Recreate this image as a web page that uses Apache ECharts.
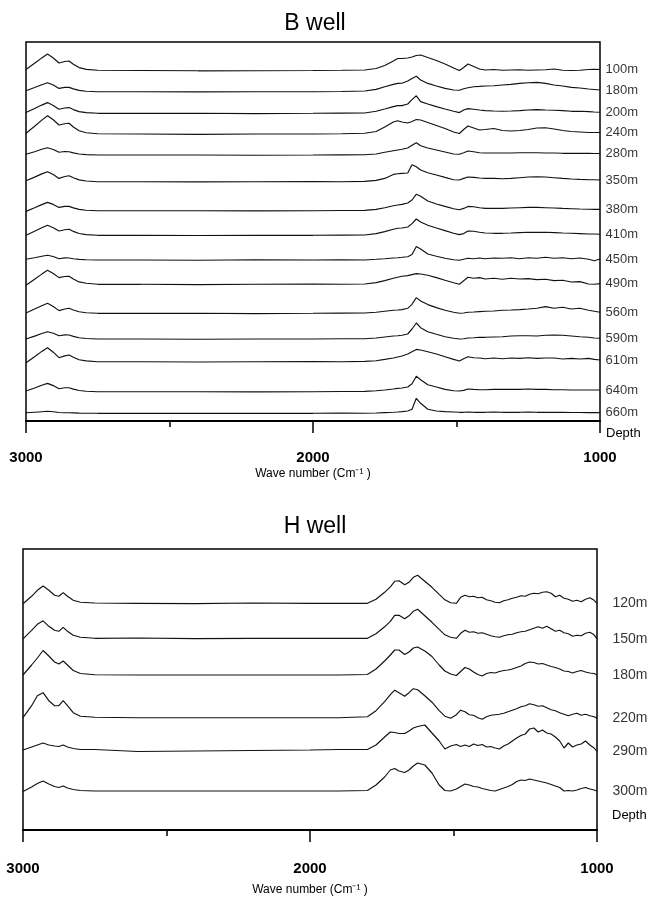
<!DOCTYPE html>
<html><head><meta charset="utf-8">
<script src="https://cdn.jsdelivr.net/npm/echarts@6/dist/echarts.min.js"></script>
<style>html,body{margin:0;padding:0;background:#fff}#c{width:654px;height:900px}</style>
</head><body><div id="c"></div>
<script>
// ---------- B well ----------
const wavenumbersB = [3000,2970,2945,2925,2905,2885,2865,2850,2835,2815,2790,2750,2600,2400,2200,2000,1900,1820,1780,1750,1720,1705,1690,1670,1655,1640,1625,1600,1570,1540,1510,1490,1475,1460,1440,1420,1400,1370,1340,1310,1280,1250,1220,1190,1160,1130,1100,1070,1040,1020,1000];
const depthsB = ['100m','180m','200m','240m','280m','350m','380m','410m','450m','490m','560m','590m','610m','640m','660m'];
const offsetsB = [350.5,329.3,307.7,287,266,239.3,210.3,185.7,161,136.7,107.7,82,59.3,29.3,7.7];
const b100 = [1,7.2,12.6,16.5,12.5,7.5,9,9.5,6.2,2.9,1.1,0.3, 0,-0.3,-0.2,0,0.2, 0.5,2,5,9.5,12,12,12.5,13.5,15,15.5,13,10,6.5,2.5,0,3,6.5,4,1.5,0.5,1,0.3,0.5,0.7,0.3,0.5,0.7,1.5,0.3,0,0.3,1,1.3,1];
const b180 = [1,4.2,7,9,6.7,3.3,4.3,4.3,2.8,1.3,0.5,0, 0,-0.2,0,0,0.2, 0.7,2.3,5,7.3,8.3,8.5,10.7,13.3,15.5,11.7,8.3,5.7,3.3,1.7,1.5,3,4,5,5.3,5.7,6,6.7,7.3,8.3,9,9.3,8.3,6.7,5.7,4.3,3.7,2.7,2.2,1.7];
const b200 = [0.7,4.7,8.2,10.7,7.8,4,5.3,5.7,3.7,1.7,0.7,0, 0,0,-0.3,0,0.2, 0.3,2,4.3,6.7,7.7,7.7,9.3,13.7,17.5,11.7,9.3,6.7,4.3,2,0.7,3.3,4.7,4,3.3,2.7,2.3,2,2.3,2.7,3.3,3.7,3.3,3,2.7,2,2,1.7,1.3,1];
const b240 = [0.7,7.7,13.9,18.3,14.2,9,10.3,10.7,7,3.2,1.3,0.3, 0,-0.3,0,0,0.3, 0.7,2.5,7,12,13.3,12,11,12.5,14.5,14,11.5,8.5,5.5,2,0.5,4.5,8,6,4,4.5,5.5,3.5,3,3.5,4.5,6,6.3,5,3.5,2.5,2,1.5,1.5,1.5];
const b280 = [0.7,3.3,5.7,7.3,5.5,2.7,3.5,3.3,2.1,1,0.4,0, 0,0,-0.2,0,0.2, 0.3,1,2.7,4.3,5,5.7,7,9.7,12.3,9.3,7,5,3,1,0.7,2.3,4,3.3,2.3,2,2,2,2,2.3,2.3,2.3,2,2,1.7,1.7,1.7,1.7,1.5,1.5];
const b350 = [1,4.6,7.8,10,7.2,3.3,5.2,6,3.9,1.8,0.7,0, 0,-0.2,0,0.2,0, 0.3,1.3,3.3,7.3,8,8.3,8.7,17,15,11.7,9,6.7,4.3,2,1.7,3.3,4.7,4.3,3.7,3.3,3.3,3,3.3,4,4.7,5,4.7,4,3.3,2.7,2.3,2,2,1.7];
const b380 = [-0.7,2.9,6.1,8.3,6.3,3.3,4.3,4.3,2.8,1.3,0.5,0, 0,0,-0.2,0,0.2, 0.3,1.3,3,5,5.7,6.3,7.7,10.7,16.5,14.5,9.7,6.7,4.3,2,1,2.3,4.3,4,3,2.3,2.3,2.3,2.7,3,3.3,3.3,3,2.7,2.3,2,1.7,1.5,1.3,1.3];
const b410 = [0,4,7.5,10,7.6,4.3,5.6,6,3.9,1.8,0.7,0, 0,-0.2,0,0,0.2, 0.3,1.7,3.7,6,7,7.3,8.3,11.7,16.3,13.3,10,7.3,4.7,2,0.7,1.7,4.3,4,3,2.3,2,2,2.3,2.7,3,3,3,2.7,2.3,2,1.7,1.3,1.3,1];
const b450 = [0.7,2.3,3.7,4.7,3.5,1.3,2.1,2,1.3,0.6,0.2,0, 0,-0.3,0.3,0,0.2, 0,0.7,1.3,2,2.3,2.7,3.3,5.5,13.5,11,6,3.7,1.7,0.3,-0.3,0.7,1.7,1.3,2,1.3,2,1.7,2.3,1.3,2.3,1.7,2.7,1.7,2.3,1.3,2,0.7,-0.7,1];
const b490 = [-1,5,10.2,14,10.8,6.7,7.8,8,5.2,2.4,1,0, 0,-0.3,0,0.3,0, 0.3,1.7,3.7,6,7,8,8.7,9.7,10.7,10.3,9,6.7,4,1.5,0,3.5,7,6,6.7,5.3,6,5,6,5.3,5.7,4.7,5,3.7,4,2.3,2.7,0.3,0,0.7];
const b560 = [0.3,4.2,7.6,10,6.8,2.7,4.3,5,3.3,1.5,0.6,0, 0,0,-0.3,0,0.2, 0.3,1,2,3,3.3,3.7,5,9,15.7,12.3,8.7,5.7,3,1,0,0.3,1,1.3,1.7,2,2.3,3,3.3,3.7,4.3,5,6.7,5,6,4.3,5,3,2,1];
const b590 = [0,2.9,5.5,7.3,5.8,3.3,4.1,4,2.6,1.2,0.5,0, 0,-0.2,0,0,0.2, 0.3,1,2,3,3.3,3.7,5,10,16,11.3,7.3,4.7,2.3,0.7,0,0.3,1,1.3,1.7,1.7,2,2.3,3,3.3,3.3,3,3.7,4,3.7,3,2.3,1.7,1,0.7];
const b610 = [-1,5,10.3,14,9.5,4,5.8,6.7,4.4,2,0.8,0, 0,-0.3,0,0.2,0, 0.3,1,2.3,3.7,4.7,5.7,7.7,10,12.3,11.7,10,7.7,5,2.3,0.7,3,5,4,3.7,3,3.7,3,3.7,3.3,4,3.3,3.7,3.7,2.7,3.3,2.7,3.3,2.3,1.7];
const b640 = [0.7,3.7,6.4,8.3,6.1,3,4,4,2.6,1.2,0.5,0, 0,0,-0.2,0,0.2, 0.3,1,1.7,2.7,3.3,3.7,4.7,8,15.5,12,7,4.7,2.3,1,0.7,1.3,2.7,2.3,2,2,2.3,2.3,2.3,2.3,2.7,2.3,2.3,2,2,1.7,1.7,1.7,1.7,1.7];
const b660 = [0.5,1.1,1.6,2,1.5,0.8,0.6,0.5,0.4,0.2,0.1,0, 0,0,0,0,0.2, 0,0.3,0.7,1,1.3,1.7,2.3,4,15,10,4,2.3,1.7,1.3,1,1,1.2,1,1,1,1.2,1,1,1,1.2,1,1,1,1,0.8,0.8,0.7,0.7,0.7];
const tracesB = [b100,b180,b200,b240,b280,b350,b380,b410,b450,b490,b560,b590,b610,b640,b660];

// ---------- H well ----------
const wavenumbersH = [3000,2970,2950,2930,2910,2890,2875,2860,2845,2825,2800,2750,2600,2400,2200,2000,1900,1800,1770,1740,1720,1705,1690,1670,1655,1640,1625,1600,1575,1550,1530,1510,1490,1475,1460,1445,1430,1415,1400,1385,1370,1355,1340,1325,1310,1295,1280,1265,1250,1235,1220,1205,1190,1175,1160,1145,1130,1115,1100,1085,1070,1055,1040,1025,1010,1000];
const depthsH = ['120m','150m','180m','220m','290m','300m'];
const offsetsH = [226.7,191.7,155,112.3,80,39];
const h120 = [-0.5,7,13,17.3,13,8,7,10.7,7,3,1,0.3, 0,-0.3,0.3,0,0, 0,4,11,16.5,22,22.5,18.5,21,26,28, 22,16,9,3.5,0.5,0,6,8,6.5,7, 5.5,6,3.5,2.5,1,0.5,2.5,3.5,5,6, 7.5,7,9,10,9.5,11,11.5,10,6.5,8, 5,4,2,3,1.5,4,5.5,3,0];
const h150 = [-0.5,8,14,17.5,12,8,7,11,7,3,1,0, 0.3,-0.3,0,0,0, 0,4.5,11.5,17,23,23,19.5,22.5,27,29, 22.5,16,9,3.5,1,0,5,8,6,6.5, 5,5.5,4,2.5,1.5,1,2.5,3.5,4,5.5, 6.5,7,8.5,10,11.5,10,12,9.5,7,8, 5.5,4.5,2,3,2.5,5,6,3.5,-0.5];
const h180 = [0,10,17,24.5,19,13,11,14,10,4.5,1.5,0.3, 0,0,0,0,0, 0.5,6,14,20,25,25,20.5,23,27,28, 24,18.5,10,4,1,-0.5,3.5,7.5,6,3, 0.5,-1,1.5,2.5,2,3.5,4.5,5,6,7.5, 9,11.5,13,12.5,11,11.5,10,8.5,7.5,6, 4,3.5,2,3.5,4.5,3,2,1.5,0];
const h220 = [0,12,22,25,17,12,12,17,12,5,1.5,0.5, 0,0,0,0,0, 1,7,16,23,27.5,25,21.5,25,29,28, 22,15.5,7,1.5,-0.5,3,7.5,6,3,2.5, 0,-1.5,1,2.5,3,3.5,4.5,6,7.5,9, 11,12,14,13,11.5,12,10,8,7,5, 3.5,2,3.5,4.5,2.5,3.5,2,1,-0.5];
const h290 = [0,3,5,7,5,4,3.5,5,3,1.5,0.5,0.5, -1.5,-1,-0.5,0,0.5, 0.5,5,13,18,17.5,16.5,16.5,19,22,23.5, 25,17,9,1,4,5.5,3.5,5,3.5,6, 4.5,5.5,3,3.5,2,1,4,6,9,12, 14.5,16,21,22,18,20,17,16,13,9, 2,7,3,5,6,9,5,2,-1.5];
const h300 = [-0.5,4,7.5,10,7,4.5,3.5,5,3,1.5,0.5,0, 0,0,0,0,0, 0.5,6,14,21,22.5,20,18.5,21,25,28, 26,18,6,0.5,0,2,4.5,7,6,4.5, 4,2.5,1.5,0.5,0,1.5,3,4.5,6.5,9.5, 11,10.5,12,11,10,9,8,6.5,5,3.5, 0,0.5,0,1,2.5,3.5,2,1,0];
const tracesH = [h120,h150,h180,h220,h290,h300];

const xTickLabels = ['3000','2000','1000'];
const xAxisTitle = 'Wave number (Cm\u207B\u00B9 )';

const FONT = "'Liberation Sans', Arial, Helvetica, sans-serif";
const chart = echarts.init(document.getElementById('c'), null, {renderer:'canvas'});

function lineSeries(wn, traces, offsets, depths, idx) {
  return traces.map((t, i) => ({
    type: 'line', name: depths[i], xAxisIndex: idx, yAxisIndex: idx,
    data: wn.map((w, j) => [w, offsets[i] + t[j]]),
    showSymbol: false, symbol: 'none', smooth: false,
    lineStyle: { color: '#111', width: 1.15 },
    silent: true, z: 3
  }));
}
function labelSeries(wn, traces, offsets, depths, idx, fontSize, dist) {
  const last = wn.length - 1;
  return {
    type: 'scatter', xAxisIndex: idx, yAxisIndex: idx, symbolSize: 1,
    itemStyle: { color: 'rgba(0,0,0,0)' }, silent: true,
    data: depths.map((d, i) => ({ name: d, value: [wn[last], offsets[i] + traces[i][last]] })),
    label: { show: true, position: 'right', distance: dist, formatter: '{b}',
             fontSize: fontSize, color: '#000', fontFamily: FONT }
  };
}
function xAxisCfg(idx, labelMargin, nameGap) {
  return {
    gridIndex: idx, type: 'value', min: 1000, max: 3000, inverse: true, interval: 1000,
    axisLine: { show: true, lineStyle: { color: '#000', width: 2 } },
    axisTick: { show: true, length: 12, lineStyle: { color: '#000', width: 1.5 } },
    minorTick: { show: true, splitNumber: 2, length: 6, lineStyle: { color: '#000', width: 1.5 } },
    splitLine: { show: false }, minorSplitLine: { show: false },
    axisLabel: { margin: labelMargin, fontSize: 15, fontWeight: 'bold', color: '#000', fontFamily: FONT,
                 formatter: v => xTickLabels.includes(String(v)) ? String(v) : '' },
    name: xAxisTitle, nameLocation: 'middle', nameGap: nameGap,
    nameTextStyle: { fontSize: 12, color: '#000', fontFamily: FONT }
  };
}
function yAxisCfg(idx, max, depthGap, depthPad, fs) {
  return {
    gridIndex: idx, type: 'value', min: 0, max: max, position: 'right',
    axisLine: { show: false }, axisTick: { show: false }, axisLabel: { show: false }, splitLine: { show: false },
    name: 'Depth', nameLocation: 'start', nameGap: depthGap,
    nameTextStyle: { fontSize: fs, color: '#000', fontFamily: FONT, align: 'left', verticalAlign: 'middle', padding: [0,0,0,depthPad] }
  };
}

const option = {
  animation: false,
  backgroundColor: '#fff',
  title: [
    { text: 'B well', left: 310, top: 7, textAlign: 'center',
      textStyle: { fontSize: 23, fontWeight: 'normal', color: '#000', fontFamily: FONT } },
    { text: 'H well', left: 310, top: 510, textAlign: 'center',
      textStyle: { fontSize: 23, fontWeight: 'normal', color: '#000', fontFamily: FONT } }
  ],
  grid: [
    { left: 26, top: 42, width: 574, height: 379, show: true, borderColor: '#000', borderWidth: 1.5, backgroundColor: 'transparent' },
    { left: 23, top: 549, width: 574, height: 281, show: true, borderColor: '#000', borderWidth: 1.5, backgroundColor: 'transparent' }
  ],
  xAxis: [ xAxisCfg(0, 29, 47), xAxisCfg(1, 31, 54) ],
  yAxis: [ yAxisCfg(0, 379, 12, 6, 13), yAxisCfg(1, 281, -15, 15, 13) ],
  series: [
    ...lineSeries(wavenumbersB, tracesB, offsetsB, depthsB, 0),
    ...lineSeries(wavenumbersH, tracesH, offsetsH, depthsH, 1),
    labelSeries(wavenumbersB, tracesB, offsetsB, depthsB, 0, 13, 5),
    labelSeries(wavenumbersH, tracesH, offsetsH, depthsH, 1, 14, 15)
  ]
};
chart.setOption(option);
</script>
</body></html>
